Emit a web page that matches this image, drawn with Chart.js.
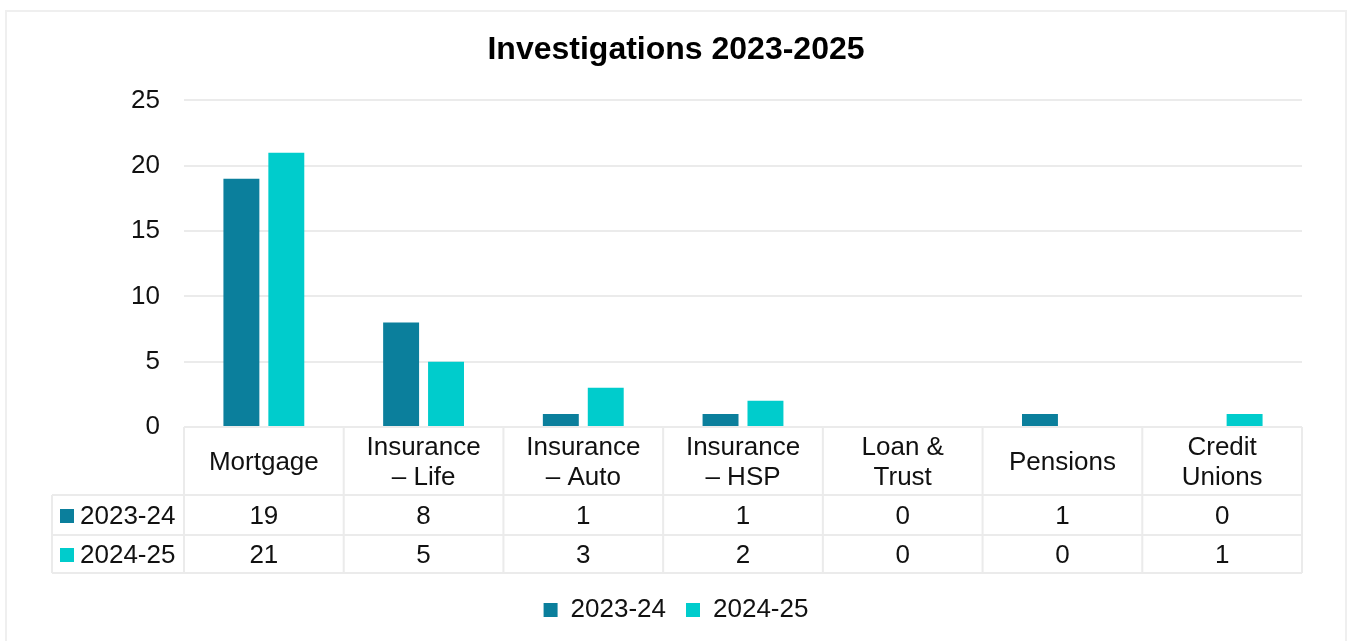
<!DOCTYPE html>
<html>
<head>
<meta charset="utf-8">
<title>Investigations 2023-2025</title>
<script src="https://cdn.jsdelivr.net/npm/chart.js@4/dist/chart.umd.min.js"></script>
<style>
    html, body { margin: 0; padding: 0; background: #fff; }
    #wrap { position: relative; width: 1347px; height: 641px; }
</style>
</head>
<body>
<div id="wrap"><canvas id="graficoInvestigacoes"></canvas></div>
<script>
// categorias (quebra de linha como no cabeçalho da tabela)
const categorias = [['Mortgage'], ['Insurance', '– Life'], ['Insurance', '– Auto'], ['Insurance', '– HSP'], ['Loan &', 'Trust'], ['Pensions'], ['Credit', 'Unions']];
const periodos = ['2023-24', '2024-25'];
const valores2324 = [19, 8, 1, 1, 0, 1, 0];
const valores2425 = [21, 5, 3, 2, 0, 0, 1];
const cores = ['#0b7f9c', '#00cccc'];
const yMax = 25;
const yPasso = 5;

const FONTE = '"Liberation Sans", Arial, sans-serif';
const COR_TEXTO = '#111';
const COR_LINHA = '#ebebeb';

// moldura externa
const moldura = {
    id: 'moldura',
    beforeDraw(chart) {
        const ctx = chart.ctx;
        ctx.save();
        ctx.strokeStyle = '#efefef';
        ctx.lineWidth = 2;
        ctx.strokeRect(6, 11, chart.width - 7, chart.height + 20);
        ctx.restore();
    }
};

// tabela de dados embaixo do eixo x
const tabelaDados = {
    id: 'tabelaDados',
    beforeDatasetsDraw(chart) {
        const {ctx, chartArea, scales: {x}} = chart;
        const n = chart.data.labels.length;
        const larg = (chartArea.right - chartArea.left) / n;
        const topo = chartArea.bottom;
        const fimCab = topo + 68;
        const fimLinha1 = fimCab + 40;
        const fimLinha2 = fimLinha1 + 38;
        const esq = chartArea.left - 132;

        ctx.save();
        ctx.strokeStyle = COR_LINHA;
        ctx.lineWidth = 2;
        ctx.beginPath();
        ctx.moveTo(chartArea.left, topo);
        ctx.lineTo(chartArea.right, topo);
        [fimCab, fimLinha1, fimLinha2].forEach(y => {
            ctx.moveTo(esq, y);
            ctx.lineTo(chartArea.right, y);
        });
        for (let i = 0; i < n; i++) {
            const xx = x.getPixelForValue(i) - larg / 2;
            ctx.moveTo(xx, topo);
            ctx.lineTo(xx, fimLinha2);
        }
        ctx.moveTo(chartArea.right, topo);
        ctx.lineTo(chartArea.right, fimLinha2);
        ctx.moveTo(esq, fimCab);
        ctx.lineTo(esq, fimLinha2);
        ctx.stroke();

        ctx.fillStyle = COR_TEXTO;
        ctx.font = '26px ' + FONTE;
        ctx.textAlign = 'center';
        ctx.textBaseline = 'middle';
        const meioCab = (topo + fimCab) / 2 + 2;
        chart.data.labels.forEach((linhas, i) => {
            const cx = x.getPixelForValue(i);
            const y0 = meioCab - (linhas.length - 1) * 15;
            linhas.forEach((t, k) => ctx.fillText(t, cx, y0 + k * 30));
        });

        const meios = [(fimCab + fimLinha1) / 2 + 2, (fimLinha1 + fimLinha2) / 2 + 2];
        chart.data.datasets.forEach((ds, d) => {
            const cy = meios[d];
            ds.data.forEach((v, i) => ctx.fillText(String(v), x.getPixelForValue(i), cy));
            ctx.fillStyle = ds.backgroundColor;
            ctx.fillRect(esq + 8, cy - 8, 14, 14);
            ctx.fillStyle = COR_TEXTO;
            ctx.textAlign = 'left';
            ctx.fillText(ds.label, esq + 28, cy);
            ctx.textAlign = 'center';
        });
        ctx.restore();
    }
};

new Chart(document.getElementById('graficoInvestigacoes'), {
    type: 'bar',
    data: {
        labels: categorias,
        datasets: [{
            label: periodos[0],
            data: valores2324,
            backgroundColor: cores[0],
            categoryPercentage: 0.5625,
            barPercentage: 0.8
        }, {
            label: periodos[1],
            data: valores2425,
            backgroundColor: cores[1],
            categoryPercentage: 0.5625,
            barPercentage: 0.8
        }]
    },
    options: {
        responsive: true,
        maintainAspectRatio: false,
        animation: false,
        layout: {
            padding: { top: 12, left: 50, right: 45, bottom: 8 }
        },
        plugins: {
            title: {
                display: true,
                text: 'Investigations 2023-2025',
                color: '#000',
                font: { family: FONTE, size: 32, weight: 'bold' },
                padding: { top: 19, bottom: 31 }
            },
            legend: {
                position: 'bottom',
                labels: {
                    color: COR_TEXTO,
                    font: { family: FONTE, size: 26 },
                    boxWidth: 14,
                    boxHeight: 14,
                    padding: 20
                }
            },
            tooltip: { enabled: false }
        },
        scales: {
            x: {
                ticks: { display: false },
                grid: { display: false },
                border: { display: false },
                afterFit: (scale) => { scale.height = 150; }
            },
            y: {
                min: 0,
                max: yMax,
                ticks: {
                    stepSize: yPasso,
                    padding: 24,
                    color: COR_TEXTO,
                    font: { family: FONTE, size: 26 }
                },
                grid: { color: COR_LINHA, lineWidth: 2, drawTicks: false },
                border: { display: false },
                afterFit: (scale) => { scale.width = 134; }
            }
        }
    },
    plugins: [moldura, tabelaDados]
});
</script>
</body>
</html>
